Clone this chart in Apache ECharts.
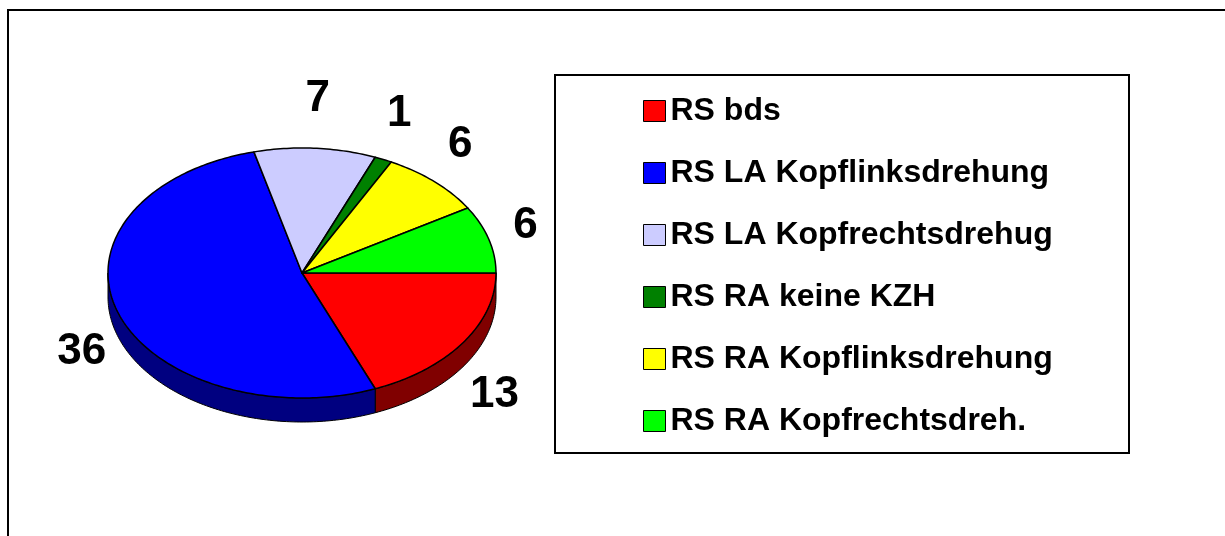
<!DOCTYPE html>
<html>
<head>
<meta charset="utf-8">
<script src="https://cdn.jsdelivr.net/npm/echarts@6/dist/echarts.min.js"></script>
<style>
  html, body { margin: 0; padding: 0; background: #fff; }
  #chart { width: 1225px; height: 536px; }
</style>
</head>
<body>
<div id="chart"></div>
<script>
const categories = [
  "RS bds",
  "RS LA Kopflinksdrehung",
  "RS LA Kopfrechtsdrehug",
  "RS RA keine KZH",
  "RS RA Kopflinksdrehung",
  "RS RA Kopfrechtsdreh."
];
const values = [13, 36, 7, 1, 6, 6];

const colors = ["#FF0000", "#0000FF", "#CCCCFF", "#008000", "#FFFF00", "#00FF00"];
const sideColors = ["#800000", "#000080", "#666680", "#004000", "#808000", "#008000"];

// pie geometry (pixels) - the reference is a tilted excel pie
const CX = 302, CY = 273, RX = 194, RY = 125, DEPTH = 24;
const LABEL_PX = 38, LABEL_PY = 50;
const FONT = "Liberation Sans, Arial, sans-serif";

const total = values.reduce((a, b) => a + b, 0);

function arcPoints(a, b, dy) {
  const pts = [];
  const n = Math.max(2, Math.ceil((b - a) / (Math.PI / 180)));
  for (let k = 0; k <= n; k++) {
    const t = a + (b - a) * k / n;
    pts.push([CX + RX * Math.cos(t), CY + RY * Math.sin(t) + dy]);
  }
  return pts;
}

function renderSlice(params, api) {
  const i = params.seriesIndex;
  const v = api.value(0);
  let before = 0;
  for (let k = 0; k < i; k++) before += values[k];
  const start = before / total * Math.PI * 2;
  const end = start + v / total * Math.PI * 2;
  const children = [];

  // visible side wall (front half of the ellipse)
  const a = Math.max(start, 0), b = Math.min(end, Math.PI);
  if (a < b) {
    const topArc = arcPoints(a, b, 0);
    const botArc = arcPoints(a, b, DEPTH).reverse();
    children.push({
      type: "polygon",
      z2: 1,
      shape: { points: topArc.concat(botArc) },
      style: { fill: sideColors[i], stroke: "#000", lineWidth: 1 }
    });
  }

  // top face
  children.push({
    type: "polygon",
    z2: 5,
    shape: { points: [[CX, CY]].concat(arcPoints(start, end, 0)) },
    style: { fill: colors[i], stroke: "#000", lineWidth: 1.5, lineJoin: "round" }
  });

  // value label outside the edge
  const mid = (start + end) / 2;
  const lx = CX + (RX + LABEL_PX) * Math.cos(mid);
  const ly = CY + (RY + LABEL_PY) * Math.sin(mid) + (Math.sin(mid) > 0 ? DEPTH : 0);
  children.push({
    type: "text",
    z2: 10,
    style: {
      text: String(v),
      x: lx,
      y: ly,
      align: "center",
      verticalAlign: "middle",
      fontFamily: FONT,
      fontWeight: "bold",
      fontSize: 44,
      fill: "#000"
    }
  });

  return { type: "group", children: children };
}

const chart = echarts.init(document.getElementById("chart"));

chart.setOption({
  animation: false,
  backgroundColor: "#fff",
  graphic: [
    {
      type: "rect",
      shape: { x: 8, y: 10, width: 1240, height: 560 },
      style: { fill: "none", stroke: "#000", lineWidth: 2 },
      z: 0
    },
    {
      type: "rect",
      shape: { x: 555, y: 75, width: 574, height: 378 },
      style: { fill: "#fff", stroke: "#000", lineWidth: 2 },
      z: 0
    }
  ],
  legend: {
    orient: "vertical",
    left: 638,
    top: 90,
    data: categories,
    icon: "rect",
    itemWidth: 22,
    itemHeight: 21,
    itemGap: 30,
    selectedMode: false,
    itemStyle: { borderColor: "#000", borderWidth: 1 },
    textStyle: {
      fontFamily: FONT,
      fontWeight: "bold",
      fontSize: 32,
      lineHeight: 32,
      color: "#000"
    },
    z: 5
  },
  series: categories.map((name, i) => ({
    type: "custom",
    name: name,
    coordinateSystem: "none",
    silent: true,
    z: 2,
    itemStyle: { color: colors[i] },
    renderItem: renderSlice,
    data: [[values[i]]]
  }))
});

window.addEventListener("resize", () => chart.resize());
</script>
</body>
</html>
